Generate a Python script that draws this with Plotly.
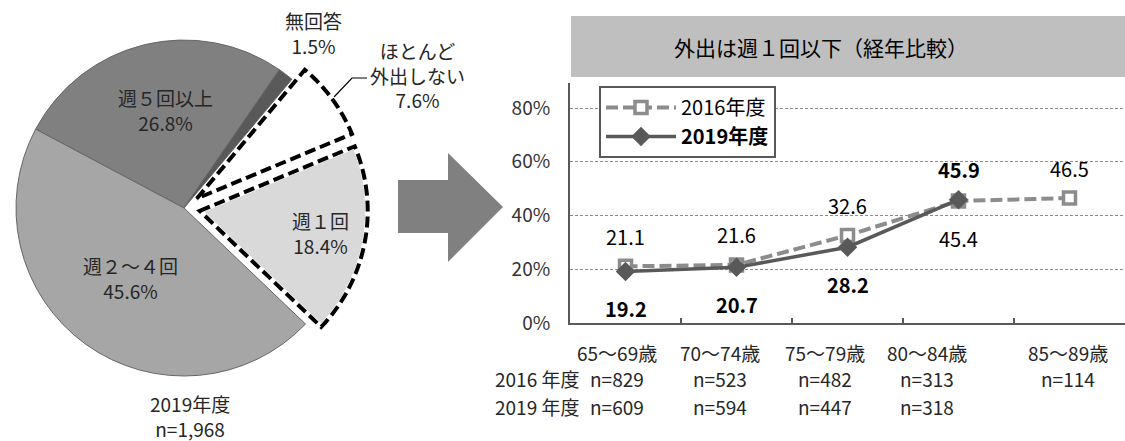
import numpy as np
import plotly.graph_objects as go

# ---------------- data ----------------
pie_labels = ["週５回以上", "無回答", "ほとんど外出しない", "週１回", "週２～４回"]
pie_label_text = ["週５回以上", "無回答", "ほとんど<br>外出しない", "週１回", "週２～４回"]
pie_values = [26.8, 1.5, 7.6, 18.4, 45.6]
pie_note = ["2019年度", "n=1,968"]

age_groups = ["65～69歳", "70～74歳", "75～79歳", "80～84歳", "85～89歳"]
series_names = ["2016年度", "2019年度"]
y2016 = [21.1, 21.6, 32.6, 45.4, 46.5]
y2019 = [19.2, 20.7, 28.2, 45.9, None]
n2016 = ["n=829", "n=523", "n=482", "n=313", "n=114"]
n2019 = ["n=609", "n=594", "n=447", "n=318", ""]
row_labels = ["2016 年度", "2019 年度"]
y_ticks = [0, 20, 40, 60, 80]
chart_title = "外出は週１回以下（経年比較）"

# ---------------- style ----------------
W, H = 1125, 441
FONT = "Noto Sans CJK JP"
pie_colors = ["#808080", "#595959", "#ffffff", "#d9d9d9", "#a6a6a6"]
pie_pulled = [False, False, True, True, False]
PIE_CX, PIE_CY, PIE_R, PULL, PIE_ROT = 184, 208, 168, 0.095, -62
pie_text_pos = [(165, 110), (313, 33), (417, 75), (320, 233), (130, 278)]


def px(x):
    return x / W


def py(y):
    return 1 - y / H


def note(x, y, text, size=19, color="#262626", xanchor="center", **kw):
    return dict(x=x, y=y, text=text, showarrow=False, xanchor=xanchor,
                yanchor="middle", font=dict(size=size, color=color), **kw)


half = PIE_R * (1 + PULL)
dom_x = [max(0.0, px(PIE_CX - half)), px(PIE_CX + half)]
dom_y = [py(PIE_CY + half), py(PIE_CY - half)]

fig = go.Figure()

fig.add_trace(go.Pie(
    labels=pie_labels, values=pie_values, sort=False, direction="clockwise",
    rotation=PIE_ROT, pull=[PULL if p else 0 for p in pie_pulled],
    marker=dict(colors=pie_colors,
                line=dict(color=["#666666"] * 5,
                          width=[0 if p else 1 for p in pie_pulled])),
    textinfo="none", hoverinfo="label+percent", showlegend=False,
    domain=dict(x=dom_x, y=dom_y),
))

# line chart
XD0, XD1 = 570, 1125
YB, YT = 323, 83
ymax = 80 * (YB - YT) / (YB - 108)
fig.add_trace(go.Scatter(
    x=age_groups, y=y2016, mode="lines+markers", name=series_names[0],
    line=dict(color="#8c8c8c", width=4, dash="12px,5px"),
    marker=dict(symbol="square", size=12, color="white",
                line=dict(color="#8c8c8c", width=3.5)),
))
fig.add_trace(go.Scatter(
    x=age_groups, y=y2019, mode="lines+markers", name="<b>" + series_names[1] + "</b>",
    line=dict(color="#595959", width=3.5),
    marker=dict(symbol="diamond", size=15, color="#595959"),
))

annotations = []
# data labels
pos2016 = [1, 1, 1, -1, 1]
pos2019 = [-1, -1, -1, 1, 0]
for cat, v, s in zip(age_groups, y2016, pos2016):
    annotations.append(note(cat, v, f"{v:.1f}", size=20, color="#000000",
                            xref="x", yref="y", yshift=30 if s > 0 else -38))
for cat, v, s in zip(age_groups, y2019, pos2019):
    if v is None:
        continue
    annotations.append(note(cat, v, f"<b>{v:.1f}</b>", size=20, color="#000000",
                            xref="x", yref="y", yshift=30 if s > 0 else -37))

# category / n rows
col_shift = [-9, -17, -23, -32, -2]
row_y = [352, 378, 406]
for i, cat in enumerate(age_groups):
    for ry, txt in zip(row_y, [cat, n2016[i], n2019[i]]):
        if not txt:
            continue
        annotations.append(note(cat, py(ry), txt, xref="x", yref="paper",
                                xshift=col_shift[i]))
for ry, txt in zip(row_y[1:], row_labels):
    annotations.append(note(px(581), py(ry), txt, xanchor="right",
                            xref="paper", yref="paper"))

# pie labels
for (tx, ty), lab, v in zip(pie_text_pos, pie_label_text, pie_values):
    annotations.append(note(px(tx), py(ty), f"{lab}<br>{v}%",
                            xref="paper", yref="paper"))
annotations.append(note(px(190), py(416), "<br>".join(pie_note),
                        xref="paper", yref="paper"))
# title
annotations.append(note(px(821), py(47), chart_title, size=21, color="#000000",
                        xref="paper", yref="paper"))

shapes = []
# title bar
shapes.append(dict(type="rect", xref="paper", yref="paper", x0=px(571), x1=1,
                   y0=py(77), y1=py(16), fillcolor="#bfbfbf", line=dict(width=0),
                   layer="below"))
# arrow
arrow_pts = [(398, 180), (448, 180), (448, 153), (503, 207), (448, 262), (448, 233), (398, 233)]
shapes.append(dict(type="path", xref="paper", yref="paper",
                   path="M " + " L ".join(f"{px(a):.5f},{py(b):.5f}" for a, b in arrow_pts) + " Z",
                   fillcolor="#808080", line=dict(width=0)))
# leader line
lead = [(367, 78), (352, 78), (334, 97)]
shapes.append(dict(type="path", xref="paper", yref="paper",
                   path="M " + " L ".join(f"{px(a):.5f},{py(b):.5f}" for a, b in lead),
                   line=dict(color="#000000", width=1.2)))

# dashed outlines of pulled slices
vals = np.array(pie_values)
tot = vals.sum()
starts = PIE_ROT + 360 * (np.cumsum(vals) - vals) / tot
ends = starts + 360 * vals / tot
for i, p in enumerate(pie_pulled):
    if not p:
        continue
    mid = np.radians((starts[i] + ends[i]) / 2)
    ccx = PIE_CX + PULL * PIE_R * np.sin(mid)
    ccy = PIE_CY - PULL * PIE_R * np.cos(mid)
    a = np.radians(np.linspace(starts[i], ends[i], 60))
    pts = [(ccx, ccy)] + [(ccx + PIE_R * np.sin(t), ccy - PIE_R * np.cos(t)) for t in a]
    path = "M " + " L ".join(f"{px(x):.5f},{py(y):.5f}" for x, y in pts) + " Z"
    shapes.append(dict(type="path", xref="paper", yref="paper", path=path,
                       line=dict(color="#ffffff", width=5)))
    shapes.append(dict(type="path", xref="paper", yref="paper", path=path,
                       line=dict(color="#000000", width=4, dash="11px,5px")))

fig.update_layout(
    width=W, height=H, margin=dict(l=0, r=0, t=0, b=0, autoexpand=False),
    paper_bgcolor="white", plot_bgcolor="white",
    font=dict(family=FONT, size=19, color="#262626"),
    xaxis=dict(domain=[px(XD0), px(XD1)], type="category", range=[-0.5, 4.5],
               autorange=False, automargin=False, showline=True,
               linecolor="#595959", linewidth=2, ticks="inside", ticklen=5,
               tickcolor="#595959", tickwidth=2, tickson="boundaries",
               showticklabels=False, showgrid=False, fixedrange=True),
    yaxis=dict(domain=[py(YB), py(YT)], range=[0, ymax], autorange=False,
               automargin=False, tickmode="array",
               tickvals=y_ticks, ticktext=[f"{t}%" for t in y_ticks],
               showline=True, linecolor="#595959", linewidth=2,
               showgrid=True, gridcolor="#8c8c8c", gridwidth=1, griddash="3px,2px",
               zeroline=False, ticks="", ticklabelstandoff=14,
               tickfont=dict(size=19, color="#333333"), fixedrange=True),
    legend=dict(x=px(599), y=py(86), xanchor="left", yanchor="top",
                bgcolor="white", bordercolor="#595959", borderwidth=2,
                font=dict(size=20, color="#000000"), itemwidth=70,
                tracegroupgap=0),
    showlegend=True,
    annotations=annotations, shapes=shapes,
)

fig.write_html("out.html", config={"displayModeBar": False},
               post_script="document.body.style.margin='0px';document.body.style.overflow='hidden';")
